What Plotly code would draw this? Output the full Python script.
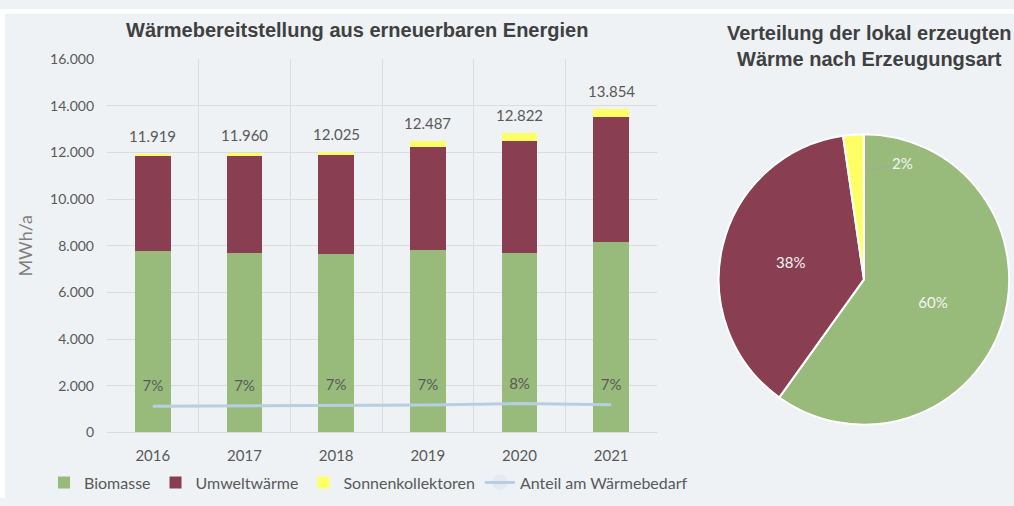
import plotly.graph_objects as go

# ---- data ----
years = ["2016", "2017", "2018", "2019", "2020", "2021"]
biomasse = [7780, 7697, 7656, 7822, 7697, 8166]
umweltwaerme = [4089, 4143, 4229, 4429, 4795, 5343]
sonnenkollektoren = [50, 120, 140, 236, 330, 345]
anteil = [0.070, 0.071, 0.074, 0.073, 0.077, 0.074]
totals = [b + u + s for b, u, s in zip(biomasse, umweltwaerme, sonnenkollektoren)]

pie_labels = ["Biomasse", "Umweltwärme", "Sonnenkollektoren"]
pie_values = [59.9, 37.8, 2.3]

series_names = ["Biomasse", "Umweltwärme", "Sonnenkollektoren", "Anteil am Wärmebedarf"]
colors = ["#98bb7c", "#893e52", "#ffff66", "#b7cfe0"]

bar_title = "Wärmebereitstellung aus erneuerbaren Energien"
pie_title = "Verteilung der lokal erzeugten<br>Wärme nach Erzeugungsart"
y_title = "MWh/a"

W, H = 1014, 506
BG = "#eef2f5"
NUM_FONT = "Lato"
TITLE_FONT = "Liberation Sans"
TXT = "#595959"

fig = go.Figure()

for name, vals, col in zip(series_names[:3], [biomasse, umweltwaerme, sonnenkollektoren], colors[:3]):
    fig.add_trace(go.Bar(x=years, y=vals, name=name, marker=dict(color=col, line=dict(width=0)),
                         xaxis="x", yaxis="y"))

fig.add_trace(go.Scatter(x=years, y=anteil, name=series_names[3], mode="lines+markers+text",
                         line=dict(color=colors[3], width=3),
                         marker=dict(size=16, opacity=0, color=colors[3]),
                         texttemplate="%{y:.0%}", textposition="top center",
                         textfont=dict(family=NUM_FONT, size=15, color=TXT),
                         xaxis="x", yaxis="y2"))

# totals above bars (category serial numbers on the category axis)
for i, t in enumerate(totals):
    fig.add_annotation(x=i, y=t, xref="x", yref="y", text=f"{t:,.0f}".replace(",", "."),
                       showarrow=False, yshift=18, xanchor="center", yanchor="middle",
                       font=dict(family=NUM_FONT, size=15, color=TXT))

fig.add_trace(go.Pie(labels=pie_labels, values=pie_values, sort=False, direction="clockwise",
                     rotation=0, showlegend=False,
                     marker=dict(colors=colors[:3], line=dict(color="white", width=2)),
                     texttemplate="%{percent:.0%}",
                     textposition=["inside", "inside", "none"],
                     insidetextorientation="horizontal",
                     insidetextfont=dict(family=NUM_FONT, size=15, color="#f4f4f4"),
                     domain=dict(x=[0.704, 1.0], y=[0.15, 0.744])))

# small-slice label with leader line
small_pct = pie_values[2] / sum(pie_values)
fig.add_annotation(x=890 / W, y=1 - 159 / H, xref="paper", yref="paper", xanchor="left",
                   yanchor="middle", text=f"{small_pct:.0%}", showarrow=False,
                   font=dict(family=NUM_FONT, size=15, color="#f4f4f4"))
fig.add_shape(type="line", xref="paper", yref="paper",
              x0=867 / W, y0=1 - 167 / H, x1=890 / W, y1=1 - 163 / H,
              line=dict(color="#a6a6a6", width=1))

# titles
fig.add_annotation(x=357 / W, y=1 - 22 / H, xref="paper", yref="paper", text=f"<b>{bar_title}</b>",
                   showarrow=False, xanchor="center", yanchor="middle",
                   font=dict(family=TITLE_FONT, size=20, color="#404040"))
fig.add_annotation(x=869 / W, y=1 - 38 / H, xref="paper", yref="paper", text=f"<b>{pie_title}</b>",
                   showarrow=False, xanchor="center", yanchor="middle",
                   font=dict(family=TITLE_FONT, size=20, color="#404040"))

# white outer margins
fig.add_shape(type="rect", xref="paper", yref="paper", x0=0, x1=1, y0=1 - 5 / H, y1=1,
              fillcolor="white", line=dict(width=0), layer="below")
fig.add_shape(type="rect", xref="paper", yref="paper", x0=0, x1=5 / W, y0=0, y1=1,
              fillcolor="white", line=dict(width=0), layer="below")

GRID = "#dcdcdc"
fig.update_layout(
    width=W, height=H, autosize=False,
    margin=dict(l=0, r=0, t=0, b=0),
    paper_bgcolor=BG, plot_bgcolor=BG,
    separators=",.",
    barmode="stack", bargap=0.61,
    xaxis=dict(domain=[107 / W, 657 / W], anchor="y", type="category", tickson="boundaries",
               showgrid=True, gridcolor=GRID, gridwidth=1, ticks="", showline=True,
               linecolor=GRID, mirror=False, ticklabelstandoff=10,
               tickfont=dict(family=NUM_FONT, size=15, color=TXT)),
    yaxis=dict(domain=[1 - 438 / H, 1 - 52 / H], anchor="x", range=[0, 16000], dtick=2000,
               tickformat=",.0f", showgrid=True, gridcolor=GRID, gridwidth=1, zeroline=False,
               ticks="", ticklabelstandoff=12, tickfont=dict(family=NUM_FONT, size=14, color=TXT),
               title=dict(text=y_title, font=dict(family=NUM_FONT, size=18, color="#7f7f7f"),
                          standoff=12)),
    yaxis2=dict(overlaying="y", anchor="x", range=[0, 1], visible=False, side="right"),
    legend=dict(orientation="h", x=44 / W, y=1 - 490 / H, xanchor="left", yanchor="middle",
                traceorder="normal", bgcolor="rgba(0,0,0,0)",
                font=dict(family=NUM_FONT, size=16, color=TXT)),
    showlegend=True,
)

fig.write_html("out.html", config={"responsive": False, "displayModeBar": False},
               post_script="document.body.style.margin='0';")
